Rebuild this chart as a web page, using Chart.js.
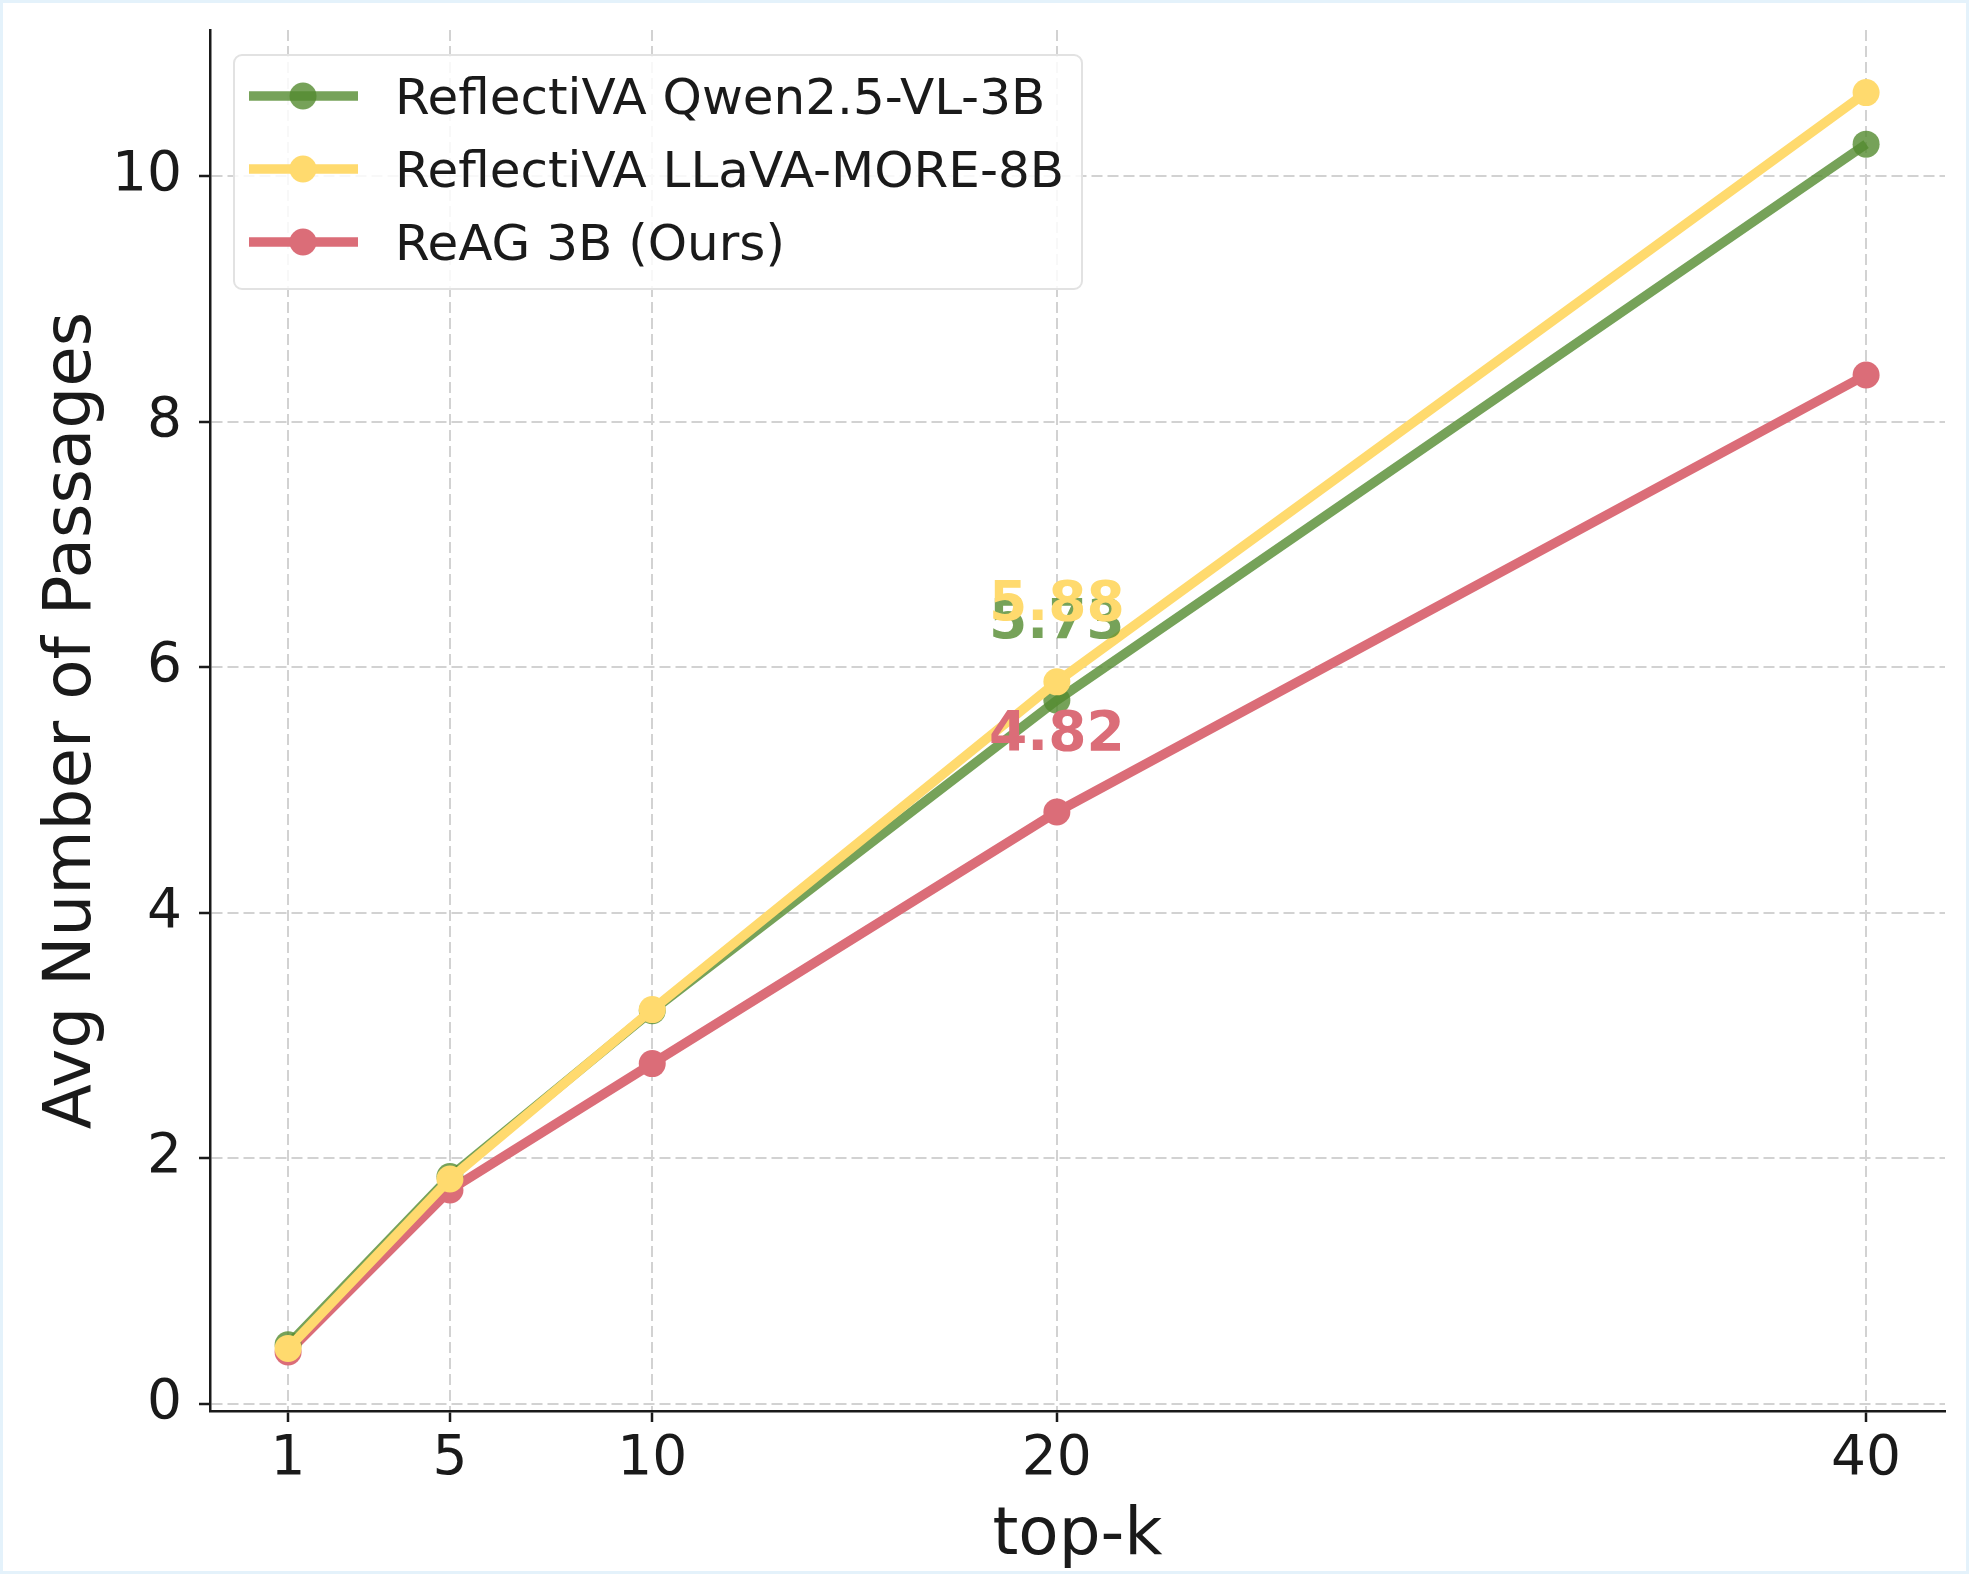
<!DOCTYPE html>
<html lang="en">
<head>
    <meta charset="UTF-8">
    <title>Avg Number of Passages vs top-k</title>
    <script src="https://cdn.jsdelivr.net/npm/chart.js"></script>
    <style>
        html, body { margin: 0; padding: 0; background: #fff; }
        #chart { display: block; }
    </style>
</head>
<body>
    <canvas id="chart" width="1969" height="1574"></canvas>

    <script>
        // data
        const topK = [1, 5, 10, 20, 40];
        const xTicks = [1, 5, 10, 20, 40];
        const yTicks = [0, 2, 4, 6, 8, 10];
        const seriesNames = ['ReflectiVA Qwen2.5-VL-3B', 'ReflectiVA LLaVA-MORE-8B', 'ReAG 3B (Ours)'];
        const qwen = [0.48, 1.85, 3.20, 5.73, 10.26];
        const llava = [0.45, 1.83, 3.21, 5.88, 10.68];
        const reag = [0.42, 1.74, 2.77, 4.82, 8.38];
        const labelIndex = 3; // values printed at top-k = 20

        const colors = ['rgba(84,139,48,0.8)', '#FFDA6E', '#DB6D78'];
        const font = 'DejaVu Sans';

        const toPoints = vals => vals.map((v, i) => ({ x: topK[i], y: v }));

        // white page with thin light-blue frame
        const pagePlugin = {
            id: 'page',
            beforeDraw(chart) {
                const ctx = chart.ctx;
                ctx.save();
                ctx.fillStyle = '#fff';
                ctx.fillRect(0, 0, chart.width, chart.height);
                ctx.restore();
            },
            afterDraw(chart) {
                const ctx = chart.ctx;
                ctx.save();
                ctx.strokeStyle = '#e4f2fb';
                ctx.lineWidth = 6;
                ctx.strokeRect(0, 0, chart.width, chart.height);
                ctx.restore();
            }
        };

        // value labels at top-k = 20
        const valueLabels = {
            id: 'valueLabels',
            afterDatasetsDraw(chart) {
                const ctx = chart.ctx;
                ctx.save();
                ctx.font = 'bold 55px "' + font + '"';
                ctx.textAlign = 'center';
                ctx.textBaseline = 'alphabetic';
                chart.data.datasets.forEach((ds, i) => {
                    const pt = chart.getDatasetMeta(i).data[labelIndex];
                    ctx.fillStyle = ds.labelColor;
                    ctx.fillText(ds.data[labelIndex].y.toFixed(2), pt.x, pt.y - 62);
                });
                ctx.restore();
            }
        };

        // matplotlib-like legend box in the upper left
        const legendBox = {
            id: 'legendBox',
            afterDatasetsDraw(chart) {
                const ctx = chart.ctx;
                const area = chart.chartArea;
                const left = area.left + 24, top = area.top + 25;
                const w = 848, h = 234, r = 8;
                ctx.save();
                ctx.beginPath();
                ctx.roundRect(left, top, w, h, r);
                ctx.fillStyle = 'rgba(255,255,255,0.85)';
                ctx.fill();
                ctx.strokeStyle = '#e2e2e2';
                ctx.lineWidth = 2;
                ctx.stroke();

                ctx.font = '50px "' + font + '"';
                ctx.textAlign = 'left';
                ctx.textBaseline = 'alphabetic';
                chart.data.datasets.forEach((ds, i) => {
                    const y = top + 41 + i * 73;
                    ctx.strokeStyle = ds.borderColor;
                    ctx.lineWidth = 9.5;
                    ctx.lineCap = 'butt';
                    ctx.beginPath();
                    ctx.moveTo(left + 15, y);
                    ctx.lineTo(left + 124, y);
                    ctx.stroke();
                    ctx.fillStyle = ds.borderColor;
                    ctx.beginPath();
                    ctx.arc(left + 69, y, 13.5, 0, Math.PI * 2);
                    ctx.fill();
                    ctx.fillStyle = '#1a1a1a';
                    ctx.fillText(ds.label, left + 161, y + 18);
                });
                ctx.restore();
            }
        };

        const makeSet = (name, vals, color, order) => ({
            label: name,
            data: toPoints(vals),
            borderColor: color,
            backgroundColor: color,
            pointBackgroundColor: color,
            pointBorderWidth: 0,
            pointRadius: 13.5,
            borderWidth: 9.5,
            labelColor: color,
            order: order,
            tension: 0
        });

        new Chart(document.getElementById('chart'), {
            type: 'line',
            data: {
                datasets: [
                    makeSet(seriesNames[0], qwen, colors[0], 2),
                    makeSet(seriesNames[1], llava, colors[1], 1),
                    makeSet(seriesNames[2], reag, colors[2], 3)
                ]
            },
            options: {
                responsive: false,
                animation: false,
                devicePixelRatio: 1,
                layout: { padding: { top: 30, right: 24, left: 0, bottom: 0 } },
                plugins: {
                    legend: { display: false },
                    tooltip: { enabled: false }
                },
                scales: {
                    x: {
                        type: 'linear',
                        min: -0.93,
                        max: 41.95,
                        afterBuildTicks: scale => { scale.ticks = xTicks.map(v => ({ value: v })); },
                        afterFit: scale => {
                            scale.height = 163;
                            scale.paddingLeft = 0;
                            scale.paddingRight = 0;
                        },
                        grid: {
                            color: '#d2d2d2',
                            lineWidth: 2,
                            tickColor: '#1a1a1a',
                            tickWidth: 2.5,
                            tickLength: 11
                        },
                        border: { display: true, color: '#1a1a1a', width: 2.5, dash: [11, 5] },
                        ticks: {
                            color: '#1a1a1a',
                            padding: 5,
                            maxRotation: 0,
                            font: { family: font, size: 55 }
                        },
                        title: {
                            display: true,
                            text: 'top-k',
                            color: '#1a1a1a',
                            font: { family: font, size: 66 },
                            padding: { top: 0, bottom: -2 }
                        }
                    },
                    y: {
                        type: 'linear',
                        min: -0.06,
                        max: 11.19,
                        afterBuildTicks: scale => { scale.ticks = yTicks.map(v => ({ value: v })); },
                        afterFit: scale => {
                            scale.width = 210;
                            scale.paddingTop = 0;
                            scale.paddingBottom = 0;
                        },
                        grid: {
                            color: '#d2d2d2',
                            lineWidth: 2,
                            tickColor: '#1a1a1a',
                            tickWidth: 2.5,
                            tickLength: 11
                        },
                        border: { display: true, color: '#1a1a1a', width: 2.5, dash: [11, 5] },
                        ticks: {
                            color: '#1a1a1a',
                            padding: 17,
                            font: { family: font, size: 55 }
                        },
                        title: {
                            display: true,
                            text: 'Avg Number of Passages',
                            color: '#1a1a1a',
                            font: { family: font, size: 66 },
                            padding: { top: 33, bottom: 0 }
                        }
                    }
                }
            },
            plugins: [pagePlugin, legendBox, valueLabels]
        });
    </script>
</body>
</html>
